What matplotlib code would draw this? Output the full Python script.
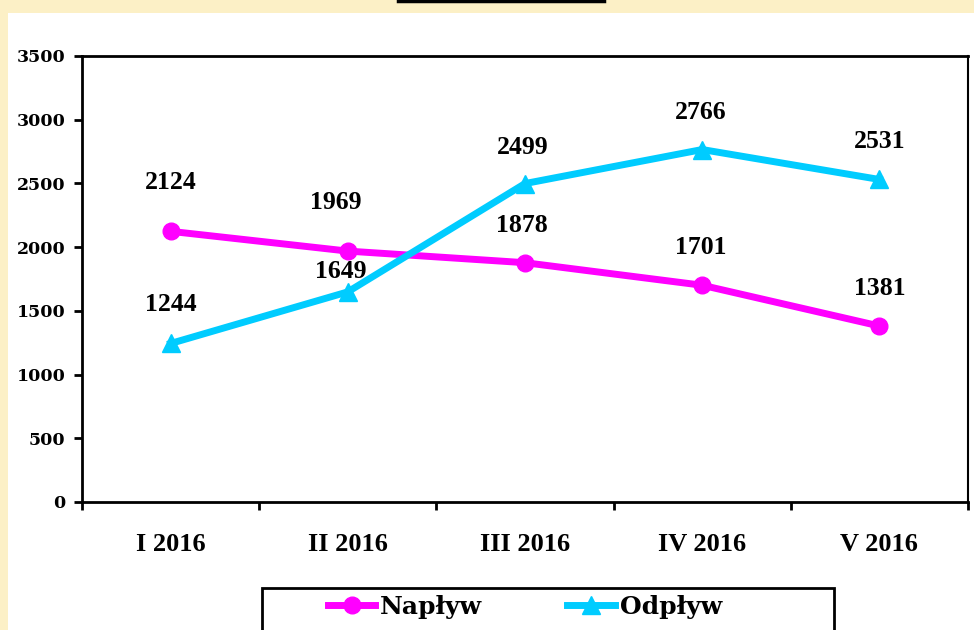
import matplotlib
matplotlib.use("Agg")
import matplotlib.pyplot as plt
from matplotlib.patches import Rectangle
from matplotlib.lines import Line2D

categories = ["I 2016", "II 2016", "III 2016", "IV 2016", "V 2016"]
naplyw = [2124, 1969, 1878, 1701, 1381]
odplyw = [1244, 1649, 2499, 2766, 2531]
series_names = ["Napływ", "Odpływ"]
y_ticks = [0, 500, 1000, 1500, 2000, 2500, 3000, 3500]

# label offsets in points (style only)
nap_off = [(0, 35), (-9, 35), (-2, 27), (-1, 27), (0, 27)]
odp_off = [(0, 28), (-5, 15), (-2, 26), (-1, 27), (0, 27)]

MAGENTA = "#FF00FF"
CYAN = "#00CCFF"
CREAM = "#FCF0C6"

fig = plt.figure(figsize=(9.74, 6.3), dpi=100)
fig.patch.set_facecolor(CREAM)
# white panel
fig.add_artist(Rectangle((8 / 974, 0), 1, 1 - 13 / 630, transform=fig.transFigure,
                         facecolor="white", edgecolor="none", zorder=0))
# top black bar (title box edge)
fig.add_artist(Line2D([398 / 974, 604 / 974], [1 - 1 / 630, 1 - 1 / 630],
                      transform=fig.transFigure, color="black", lw=2.5))

ax = fig.add_axes([82 / 974, 1 - 502 / 630, (968 - 82) / 974, (502 - 56) / 630])
ax.set_facecolor("white")
x = list(range(len(categories)))
ax.plot(x, naplyw, color=MAGENTA, lw=5, marker="o", ms=12, zorder=3, clip_on=False)
ax.plot(x, odplyw, color=CYAN, lw=5, marker="^", ms=13, zorder=3, clip_on=False)

ax.set_xlim(-0.5, len(categories) - 0.5)
ax.set_ylim(0, 3500)
ax.set_yticks(y_ticks)
ax.set_yticklabels([str(v) for v in y_ticks], fontfamily="DejaVu Serif",
                   fontweight="bold", fontsize=12.5)
ax.set_xticks(x)
ax.set_xticklabels(categories, fontfamily="Liberation Serif", fontweight="bold", fontsize=19)
ax.set_xticks([i + 0.5 for i in range(-1, len(categories))], minor=True)
ax.tick_params(axis="x", which="major", length=0, pad=22)
ax.tick_params(axis="x", which="minor", length=6, width=2, direction="out")
ax.tick_params(axis="y", length=6, width=2, direction="out", pad=6)
for s in ["left", "bottom", "top"]:
    ax.spines[s].set_linewidth(2)
ax.spines["right"].set_linewidth(1.5)

for i, v in enumerate(naplyw):
    ax.annotate(str(v), (i, v), xytext=nap_off[i], textcoords="offset points",
                ha="center", va="center", fontfamily="Liberation Serif",
                fontweight="bold", fontsize=18.5, zorder=5)
for i, v in enumerate(odplyw):
    ax.annotate(str(v), (i, v), xytext=odp_off[i], textcoords="offset points",
                ha="center", va="center", fontfamily="Liberation Serif",
                fontweight="bold", fontsize=18.5, zorder=5)

# legend box (bottom edge cut off by figure)
fig.add_artist(Rectangle((262 / 974, -0.05), (834 - 262) / 974, 0.05 + 1 - 588 / 630,
                         transform=fig.transFigure, facecolor="white",
                         edgecolor="black", lw=2, zorder=1))
handles = [Line2D([], [], color=MAGENTA, lw=5, marker="o", ms=12),
           Line2D([], [], color=CYAN, lw=5, marker="^", ms=13)]
leg = fig.legend(handles, series_names, loc="center", ncol=2,
                 bbox_to_anchor=(525 / 974, 1 - 607 / 630), frameon=False,
                 handlelength=1.9, columnspacing=3.4, handletextpad=0.2,
                 borderpad=0, borderaxespad=0,
                 prop={"family": "DejaVu Serif", "weight": "bold", "size": 18})
leg.set_zorder(2)

fig.savefig("out.png", dpi=100, facecolor=fig.get_facecolor())
